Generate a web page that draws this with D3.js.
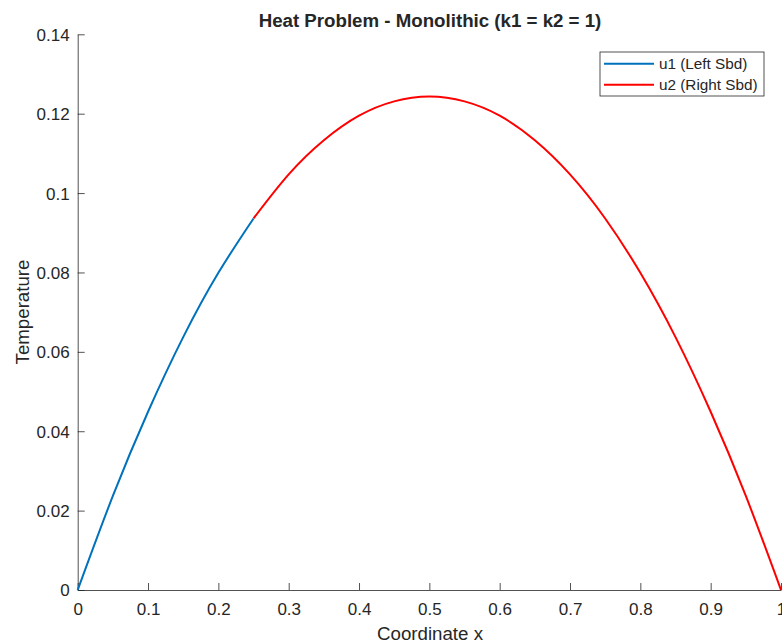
<!DOCTYPE html>
<html>
<head>
<meta charset="utf-8">
<script src="https://cdn.jsdelivr.net/npm/d3@7"></script>
<style>
  html, body { margin: 0; padding: 0; background: #fff; }
  svg text { font-family: "Liberation Sans", Arial, Helvetica, sans-serif; fill: #262626; }
</style>
</head>
<body>
<svg id="chart" width="782" height="643"></svg>
<script>
// Temperature along the rod, left subdomain (u1) and right subdomain (u2)
const xLeft  = [0, 0.05, 0.10, 0.15, 0.20, 0.25];
const uLeft  = [0, 0.0237, 0.0449, 0.0637, 0.0799, 0.0936];
const xRight = [0.25, 0.30, 0.35, 0.40, 0.45, 0.50, 0.55, 0.60, 0.65, 0.70, 0.75, 0.80, 0.85, 0.90, 0.95, 1.00];
const uRight = [0.0936, 0.1047, 0.1133, 0.1195, 0.1231, 0.1243, 0.1231, 0.1195, 0.1133, 0.1047, 0.0936, 0.0799, 0.0637, 0.0449, 0.0237, 0];

const xTicks = [0, 0.1, 0.2, 0.3, 0.4, 0.5, 0.6, 0.7, 0.8, 0.9, 1];
const yTicks = [0, 0.02, 0.04, 0.06, 0.08, 0.1, 0.12, 0.14];
const seriesNames = ["u1 (Left Sbd)", "u2 (Right Sbd)"];
const seriesColors = ["#0072BD", "#FF0000"];

const svg = d3.select("#chart");
const axisColor = "#262626";

const x = d3.scaleLinear().domain([0, 1]).range([77.7, 781]);
const y = d3.scaleLinear().domain([0, 0.14]).range([590, 34.3]);

// Axes (box off, ticks pointing inward)
const xAxis = d3.axisBottom(x).tickValues(xTicks).tickSizeInner(-7).tickSizeOuter(0)
  .tickPadding(14).tickFormat(d3.format("~g"));
const yAxis = d3.axisLeft(y).tickValues(yTicks).tickSizeInner(-7).tickSizeOuter(0)
  .tickPadding(14).tickFormat(d3.format("~g"));

const gx = svg.append("g").attr("transform", `translate(0,${y(0)})`).call(xAxis);
const gy = svg.append("g").attr("transform", `translate(${x(0)},0)`).call(yAxis);

[gx, gy].forEach(g => {
  g.select(".domain").attr("stroke", axisColor).attr("stroke-width", 0.8);
  g.selectAll(".tick line").attr("stroke", axisColor).attr("stroke-width", 0.8);
  g.selectAll(".tick text").attr("fill", axisColor)
    .style("font-family", '"Liberation Sans", Arial, sans-serif').style("font-size", "17px");
});
gx.selectAll(".tick text").attr("dy", "0.71em").attr("y", 13);
gy.selectAll(".tick text").attr("x", -8).attr("dy", "0.35em");

// Curves, smoothed through the sampled values
const line = d3.line()
  .x(d => x(d[0])).y(d => y(d[1]))
  .curve(d3.curveNatural);

const series = [
  d3.zip(xLeft, uLeft),
  d3.zip(xRight, uRight)
];

svg.append("g").selectAll("path").data(series).join("path")
  .attr("d", line)
  .attr("fill", "none")
  .attr("stroke", (d, i) => seriesColors[i])
  .attr("stroke-width", 2)
  .attr("stroke-linejoin", "round");

// Title and axis labels
svg.append("text")
  .attr("x", 430).attr("y", 27)
  .attr("text-anchor", "middle")
  .style("font-size", "18.7px").style("font-weight", "bold")
  .text("Heat Problem - Monolithic (k1 = k2 = 1)");

svg.append("text")
  .attr("x", 430).attr("y", 640)
  .attr("text-anchor", "middle")
  .style("font-size", "18.7px")
  .text("Coordinate x");

svg.append("text")
  .attr("transform", "translate(29,312) rotate(-90)")
  .attr("text-anchor", "middle")
  .style("font-size", "18.7px")
  .text("Temperature");

// Legend
const legend = svg.append("g");
legend.append("rect")
  .attr("x", 600).attr("y", 52).attr("width", 164).attr("height", 44)
  .attr("fill", "#fff").attr("stroke", axisColor).attr("stroke-width", 0.8);

const items = legend.selectAll("g.item").data(seriesNames).join("g")
  .attr("class", "item")
  .attr("transform", (d, i) => `translate(0,${63.7 + i * 21})`);
items.append("line")
  .attr("x1", 604).attr("x2", 654).attr("y1", 0).attr("y2", 0)
  .attr("stroke", (d, i) => seriesColors[i]).attr("stroke-width", 2);
items.append("text")
  .attr("x", 659).attr("y", 0).attr("dy", "0.35em")
  .style("font-size", "15.3px")
  .text(d => d);
</script>
</body>
</html>
